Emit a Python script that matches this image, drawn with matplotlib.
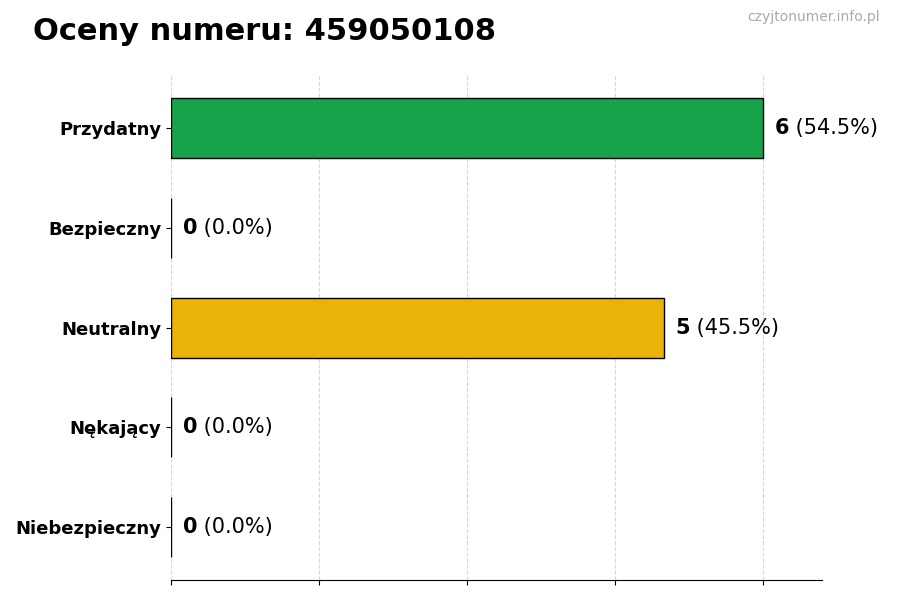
import matplotlib
matplotlib.use("Agg")
import matplotlib.pyplot as plt

### DATA ###
categories = ["Przydatny", "Bezpieczny", "Neutralny", "Nękający", "Niebezpieczny"]
counts = [6, 0, 5, 0, 0]
colors = ["#16a34a", "#22c55e", "#eab308", "#f97316", "#dc2626"]
number = "459050108"
#############


def main():
    total = sum(counts)
    fig = plt.figure(figsize=(9, 6), dpi=100)
    ax = fig.add_axes([0.19, 0.033, 0.723, 0.842])

    ypos = list(range(len(categories)))
    ax.barh(ypos, counts, height=0.6, color=colors, edgecolor="black", linewidth=1, zorder=3)
    ax.invert_yaxis()
    ax.set_yticks(ypos)
    ax.set_yticklabels(categories, fontsize=13, fontweight="bold")

    top = max(counts) * 1.1
    ax.set_xlim(0, top)
    ax.set_xticks([0, 1.5, 3, 4.5, 6])
    ax.set_xticklabels([])
    ax.grid(axis="x", linestyle="--", color="#d8d8d8", linewidth=0.8, zorder=0)

    for side in ["top", "right", "left"]:
        ax.spines[side].set_visible(False)

    # value labels
    for y, c in zip(ypos, counts):
        pct = 100 * c / total
        t = ax.text(c + 0.12, y, str(c), fontsize=15, fontweight="bold", va="center", ha="left")
        ax.annotate(f" ({pct:.1f}%)", xy=(1, 0), xycoords=t, va="bottom", ha="left", fontsize=15)

    fig.text(0.037, 0.947, f"Oceny numeru: {number}", fontsize=22, fontweight="bold", va="center", ha="left")
    fig.text(0.978, 0.971, "czyjtonumer.info.pl", fontsize=10, color="#aaaaaa", va="center", ha="right")

    fig.savefig("out.png", dpi=100)


main()
